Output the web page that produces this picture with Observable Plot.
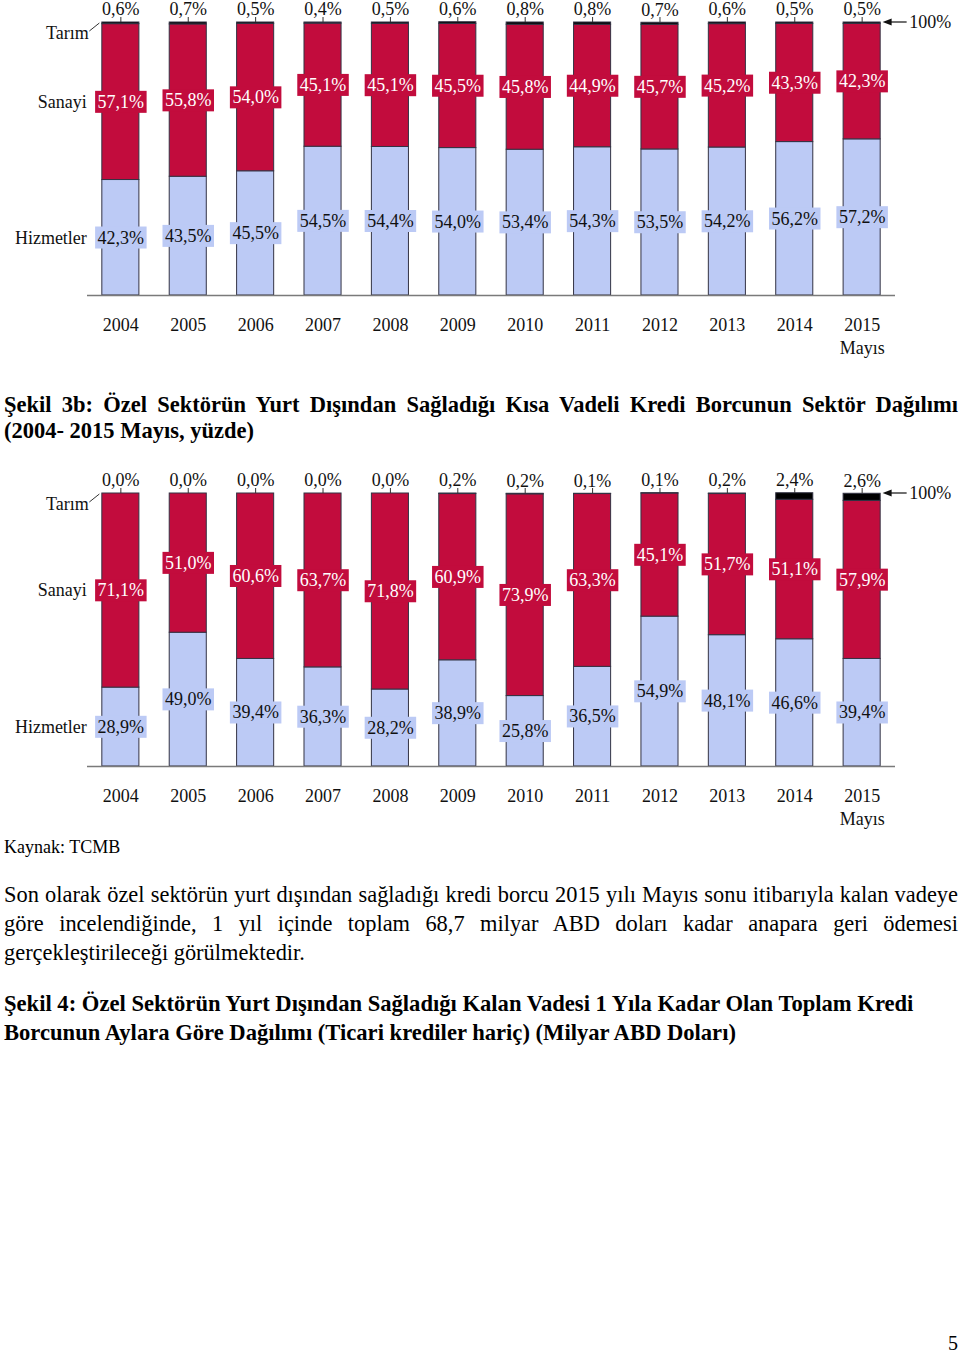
<!DOCTYPE html>
<html>
<head>
<meta charset="utf-8">
<script src="https://cdn.jsdelivr.net/npm/d3@7"></script>
<script src="https://cdn.jsdelivr.net/npm/@observablehq/plot@0.6"></script>
<style>
  body { margin: 0; background: #fff; font-family: "Liberation Serif", "Times New Roman", serif; color: #000; }
  #page { position: relative; width: 960px; height: 1354px; overflow: hidden; }
  .chart { position: absolute; left: 0; }
  #c1 { top: 0; }
  #c2 { top: 465px; }
  .blk { position: absolute; left: 4px; width: 954px; }
  .j { text-align: justify; text-align-last: justify; white-space: nowrap; }
  #title1 { top: 392px; font-weight: bold; font-size: 22.5px; line-height: 26px; }
  #source { top: 837px; font-size: 18px; line-height: 20px; }
  #para { top: 880px; font-size: 22.4px; line-height: 29px; }
  #title2 { top: 989px; font-weight: bold; font-size: 22.6px; line-height: 29px; }
  #pagenum { position: absolute; top: 1332px; right: 2px; font-size: 20px; line-height: 22px; }
</style>
</head>
<body>
<div id="page">
  <div id="c1" class="chart"></div>
  <div id="title1" class="blk">
    <div class="j">Şekil 3b: Özel Sektörün Yurt Dışından Sağladığı Kısa Vadeli Kredi Borcunun Sektör Dağılımı</div>
    <div>(2004- 2015 Mayıs, yüzde)</div>
  </div>
  <div id="c2" class="chart"></div>
  <div id="source" class="blk">Kaynak: TCMB</div>
  <div id="para" class="blk">
    <div class="j">Son olarak özel sektörün yurt dışından sağladığı kredi borcu 2015 yılı Mayıs sonu itibarıyla kalan vadeye</div>
    <div class="j">göre incelendiğinde, 1 yıl içinde toplam 68,7 milyar ABD doları kadar anapara geri ödemesi</div>
    <div>gerçekleştirileceği görülmektedir.</div>
  </div>
  <div id="title2" class="blk">
    <div>Şekil 4: Özel Sektörün Yurt Dışından Sağladığı Kalan Vadesi 1 Yıla Kadar Olan Toplam Kredi</div>
    <div>Borcunun Aylara Göre Dağılımı (Ticari krediler hariç) (Milyar ABD Doları)</div>
  </div>
  <div id="pagenum">5</div>
</div>
<script>
const years = ["2004","2005","2006","2007","2008","2009","2010","2011","2012","2013","2014","2015"];
const yearLabels = ["2004","2005","2006","2007","2008","2009","2010","2011","2012","2013","2014","2015\nMayıs"];
const sectors = ["Hizmetler", "Sanayi", "Tarım"];
const sectorColors = ["#bccaf5", "#c20c3d", "#000000"];

// upper chart
const tarim1   = [0.6, 0.7, 0.5, 0.4, 0.5, 0.6, 0.8, 0.8, 0.7, 0.6, 0.5, 0.5];
const sanayi1  = [57.1, 55.8, 54.0, 45.1, 45.1, 45.5, 45.8, 44.9, 45.7, 45.2, 43.3, 42.3];
const hizmet1  = [42.3, 43.5, 45.5, 54.5, 54.4, 54.0, 53.4, 54.3, 53.5, 54.2, 56.2, 57.2];

// Şekil 3b (lower chart)
const tarim2   = [0.0, 0.0, 0.0, 0.0, 0.0, 0.2, 0.2, 0.1, 0.1, 0.2, 2.4, 2.6];
const sanayi2  = [71.1, 51.0, 60.6, 63.7, 71.8, 60.9, 73.9, 63.3, 45.1, 51.7, 51.1, 57.9];
const hizmet2  = [28.9, 49.0, 39.4, 36.3, 28.2, 38.9, 25.8, 36.5, 54.9, 48.1, 46.6, 39.4];

function buildData(t, s, h) {
  const rows = [];
  years.forEach((y, i) => {
    rows.push({year: y, sector: "Hizmetler", value: h[i]});
    rows.push({year: y, sector: "Sanayi", value: s[i]});
    rows.push({year: y, sector: "Tarım", value: t[i]});
  });
  return rows;
}

const fmt = v => v.toFixed(1).replace(".", ",") + "%";
const FONT = "Liberation Serif";
const ML = 87, MR = 65, PLOT_H = 273;
const INK = "#111111";
const SAN_TXT = "#ffffff";
const HIZ_TXT = "#101010";

function makeChart(data, marginTop, height) {
  const stackOpts = {x: "year", y: "value", z: "sector", order: sectors};
  return Plot.plot({
    width: 960,
    height,
    marginTop,
    marginBottom: height - marginTop - PLOT_H,
    marginLeft: ML,
    marginRight: MR,
    x: {domain: years, paddingInner: 0.45, paddingOuter: 0.22, round: false, axis: null},
    y: {domain: [0, 100], axis: null},
    color: {domain: sectors, range: sectorColors},
    style: {fontFamily: FONT, fontSize: "18px", background: "#fff", color: "#000", overflow: "visible"},
    marks: [
      Plot.barY(data, {x: "year", y: "value", fill: "sector", stroke: "#333344", strokeWidth: 1, order: sectors}),
      Plot.ruleY([0], {stroke: "#7a7a7a", strokeWidth: 1.6}),
      Plot.ruleX(years, {x: d => d, y1: 100, y2: 100, insetBottom: 5, stroke: "#333", strokeWidth: 1}),
      Plot.text(data, Plot.stackY2({...stackOpts,
        text: d => d.sector === "Tarım" ? fmt(d.value) : null,
        dy: -13, fontSize: 18, fill: INK, fontFamily: FONT})),
      Plot.text(data, Plot.stackY({...stackOpts,
        text: d => d.sector === "Sanayi" ? fmt(d.value) : null,
        fontSize: 18, fill: SAN_TXT, fontFamily: FONT})),
      Plot.text(data, Plot.stackY({...stackOpts,
        text: d => d.sector === "Hizmetler" ? fmt(d.value) : null,
        fontSize: 18, fill: HIZ_TXT, fontFamily: FONT})),
      Plot.text(data, Plot.stackY({...stackOpts,
        text: d => d.year === years[0] && d.sector !== "Tarım" ? d.sector : null,
        textAnchor: "end", dx: -34, fontSize: 18, fill: INK, fontFamily: FONT})),
      Plot.text(data, Plot.stackY2({...stackOpts,
        text: d => d.year === years[0] && d.sector === "Tarım" ? d.sector : null,
        textAnchor: "end", dx: -32, dy: 11, fontSize: 18, fill: INK, fontFamily: FONT})),
      Plot.text([years[years.length - 1]], {x: d => d, frameAnchor: "top", lineAnchor: "middle", text: () => "100%",
        textAnchor: "start", dx: 47, fontSize: 18, fill: INK, fontFamily: FONT}),
      Plot.text(years, {x: d => d, frameAnchor: "bottom", text: (d, i) => yearLabels[i],
        lineAnchor: "top", dy: 19, lineHeight: 1.28, fontSize: 18, fill: INK, fontFamily: FONT})
    ]
  });
}

function decorate(svg, marginTop) {
  const s = d3.select(svg);
  // background boxes behind the value labels
  [[SAN_TXT, sectorColors[1]], [HIZ_TXT, sectorColors[0]]].forEach(([txtFill, boxFill]) => {
    s.selectAll("g").filter(function() {
      return (this.getAttribute("fill") || "").toLowerCase() === txtFill;
    }).selectAll("text").each(function() {
      if (!this.textContent) return;
      const bb = this.getBBox();
      const r = document.createElementNS("http://www.w3.org/2000/svg", "rect");
      r.setAttribute("x", bb.x - 2.5);
      r.setAttribute("y", bb.y - 1);
      r.setAttribute("width", bb.width + 5);
      r.setAttribute("height", bb.height + 2);
      r.setAttribute("fill", boxFill);
      const tr = this.getAttribute("transform");
      if (tr) r.setAttribute("transform", tr);
      this.parentNode.insertBefore(r, this);
    });
  });
  const xs = d3.scaleBand().domain(years).range([ML, 960 - MR]).paddingInner(0.45).paddingOuter(0.22);
  const c0 = xs(years[0]) + xs.bandwidth() / 2;
  const cN = xs(years[years.length - 1]) + xs.bandwidth() / 2;
  const top = marginTop;
  s.append("line").attr("x1", c0 - 31).attr("y1", top + 9).attr("x2", c0 - 21).attr("y2", top + 1)
    .attr("stroke", "#333").attr("stroke-width", 1);
  s.append("line").attr("x1", cN + 45).attr("y1", top).attr("x2", cN + 28).attr("y2", top)
    .attr("stroke", "#111").attr("stroke-width", 1.2);
  s.append("path").attr("d", `M${cN + 21},${top} L${cN + 30},${top - 3.5} L${cN + 30},${top + 3.5} Z`).attr("fill", "#111");
}

const ch1 = makeChart(buildData(tarim1, sanayi1, hizmet1), 22, 360);
document.getElementById("c1").appendChild(ch1);
decorate(ch1, 22);

const ch2 = makeChart(buildData(tarim2, sanayi2, hizmet2), 28, 366);
document.getElementById("c2").appendChild(ch2);
decorate(ch2, 28);
</script>
</body>
</html>
